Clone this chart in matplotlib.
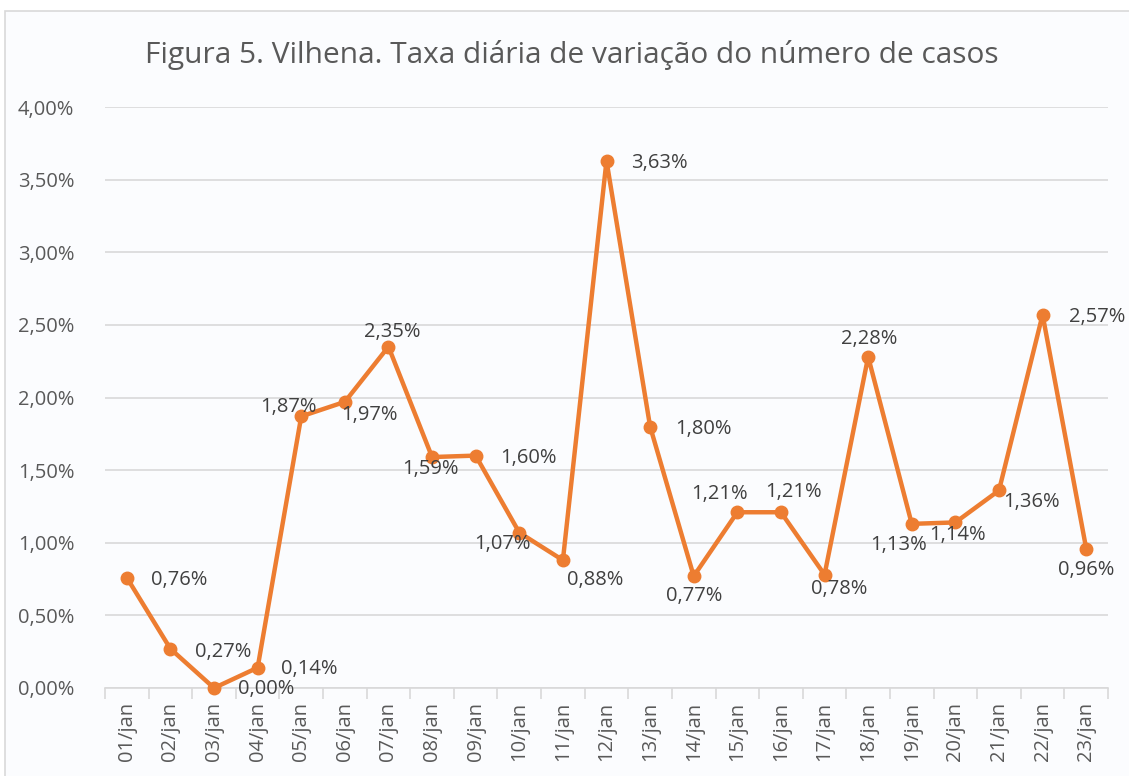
import matplotlib.pyplot as plt
from matplotlib.patches import Rectangle

plt.rcParams['font.family'] = ['Open Sans', 'DejaVu Sans']

# dados
dias = ['01/jan', '02/jan', '03/jan', '04/jan', '05/jan', '06/jan', '07/jan', '08/jan',
        '09/jan', '10/jan', '11/jan', '12/jan', '13/jan', '14/jan', '15/jan', '16/jan',
        '17/jan', '18/jan', '19/jan', '20/jan', '21/jan', '22/jan', '23/jan']
taxa = [0.76, 0.27, 0.00, 0.14, 1.87, 1.97, 2.35, 1.59, 1.60, 1.07, 0.88, 3.63,
        1.80, 0.77, 1.21, 1.21, 0.78, 2.28, 1.13, 1.14, 1.36, 2.57, 0.96]
rotulos = ['0,76%', '0,27%', '0,00%', '0,14%', '1,87%', '1,97%', '2,35%', '1,59%',
           '1,60%', '1,07%', '0,88%', '3,63%', '1,80%', '0,77%', '1,21%', '1,21%',
           '0,78%', '2,28%', '1,13%', '1,14%', '1,36%', '2,57%', '0,96%']
y_ticks = [0.0, 0.5, 1.0, 1.5, 2.0, 2.5, 3.0, 3.5, 4.0]
y_labels = ['0,00%', '0,50%', '1,00%', '1,50%', '2,00%', '2,50%', '3,00%', '3,50%', '4,00%']

# deslocamento dos rotulos (pixels)
offsets = [(52, -2), (53, -3), (52, -1), (52, -1), (-13, 9), (25, -13), (4, 15), (-2, -12),
           (53, -2), (-17, -11), (32, -20), (53, -2), (53, -2), (0, -20), (-18, 18), (13, 20),
           (15, -14), (1, 18), (-13, -21), (2, -13), (33, -12), (55, -2), (0, -21)]

cinza = '#595959'
escuro = '#404040'
laranja = '#ED7D31'

fig = plt.figure(figsize=(11.29, 7.76), dpi=100)
fig.patch.set_facecolor('white')
fig.patches.append(Rectangle((5 / 1129, -0.01), 1.02, (776 - 11) / 776 + 0.01,
                             transform=fig.transFigure, facecolor='#FBFCFE',
                             edgecolor='#D9D9D9', linewidth=1.2, zorder=-1))

ax = fig.add_axes([105 / 1129, (776 - 688) / 776, (1108 - 105) / 1129, (688 - 107) / 776])
ax.set_facecolor('none')
ax.set_zorder(1)

x = list(range(len(dias)))
ax.plot(x, taxa, color=laranja, linewidth=3.2, marker='o', markersize=9,
        solid_joinstyle='round', zorder=3, clip_on=False)

for i, (v, r) in enumerate(zip(taxa, rotulos)):
    ax.annotate(r, (i, v), xytext=offsets[i], textcoords='offset pixels',
                ha='center', va='center', fontsize=14.5, color=escuro, zorder=4)

ax.set_xlim(-0.5, len(dias) - 0.5)
ax.set_ylim(0, 4.0)
ax.set_yticks(y_ticks)
ax.set_yticklabels(y_labels, fontsize=14.5, color=cinza)
ax.set_xticks(x)
ax.set_xticklabels(dias, rotation=90, fontsize=14.5, color=cinza)
ax.set_xticks([i - 0.5 for i in range(len(dias) + 1)], minor=True)
ax.tick_params(axis='x', which='major', length=0, pad=10)
ax.tick_params(axis='x', which='minor', length=8, width=1.2, color='#D9D9D9')
ax.tick_params(axis='y', length=0, pad=22)

ax.grid(axis='y', color='#D9D9D9', linewidth=1.2)
ax.set_axisbelow(True)
for s in ['top', 'right', 'left']:
    ax.spines[s].set_visible(False)
ax.spines['bottom'].set_color('#D9D9D9')
ax.spines['bottom'].set_linewidth(1.2)

fig.text(572 / 1129, 1 - 55 / 776, 'Figura 5. Vilhena. Taxa diária de variação do número de casos',
         ha='center', va='center', fontsize=21.5, color=cinza)

fig.savefig('out.png', dpi=100)
